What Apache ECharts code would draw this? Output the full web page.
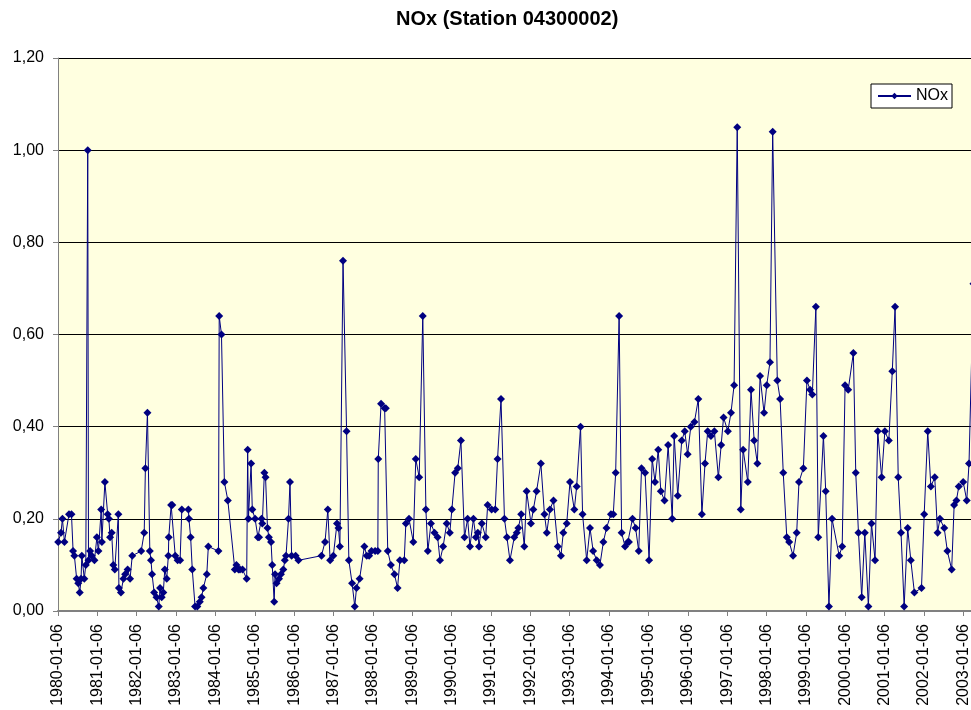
<!DOCTYPE html>
<html>
<head>
<meta charset="utf-8">
<script src="https://cdn.jsdelivr.net/npm/echarts@6/dist/echarts.min.js"></script>
<style>html,body{margin:0;padding:0;background:#fff;}#c{width:971px;height:710px;}</style>
</head>
<body>
<div id="c"></div>
<script>
const chartTitle = 'NOx (Station 04300002)';
const seriesName = 'NOx';
const yTicks = [0, 0.2, 0.4, 0.6, 0.8, 1.0, 1.2];
const tickYears = [1980,1981,1982,1983,1984,1985,1986,1987,1988,1989,1990,1991,1992,1993,1994,1995,1996,1997,1998,1999,2000,2001,2002,2003,2004];

const dates = [
'1980-01-08','1980-02-03','1980-02-16','1980-03-06','1980-04-17','1980-05-10','1980-05-25','1980-06-06','1980-06-27','1980-07-12',
'1980-07-26','1980-08-07','1980-08-14','1980-09-06','1980-09-20','1980-10-08','1980-10-15','1980-10-30','1980-11-14','1980-12-09',
'1981-01-01','1981-01-15','1981-02-10','1981-02-16','1981-03-16','1981-04-11','1981-04-22','1981-05-03','1981-05-18','1981-06-02',
'1981-06-16','1981-07-19','1981-07-24','1981-08-12','1981-09-04','1981-09-20','1981-10-13','1981-11-05','1981-11-25',
'1982-02-16','1982-03-16','1982-03-27','1982-04-15','1982-05-07','1982-05-18','1982-05-28','1982-06-16','1982-07-08','1982-07-29',
'1982-08-10','1982-08-25','1982-09-09','1982-09-23','1982-10-11','1982-10-26','1982-10-30','1982-11-21','1982-12-02','1982-12-29',
'1983-01-20','1983-02-12','1983-02-28','1983-04-30','1983-05-05','1983-05-21','1983-06-05','1983-07-01','1983-07-22','1983-08-14',
'1983-08-30','1983-09-16','1983-10-18','1983-11-01',
'1984-02-03','1984-02-10','1984-03-02','1984-03-29','1984-04-30','1984-07-04','1984-07-19','1984-08-07','1984-08-21','1984-09-13',
'1984-10-22','1984-10-31','1984-11-07','1984-12-02','1984-12-13',
'1985-01-08','1985-02-03','1985-02-14','1985-03-09','1985-03-16','1985-04-04','1985-04-15','1985-05-03','1985-05-16','1985-06-05',
'1985-06-16','1985-07-04','1985-07-12','1985-07-26','1985-08-18','1985-09-05','1985-09-27','1985-10-11','1985-10-22','1985-11-14',
'1985-11-28','1985-12-13','1986-01-19','1986-02-14','1986-09-16','1986-10-19','1986-11-14','1986-12-05',
'1987-01-04','1987-02-07','1987-02-21','1987-03-06','1987-04-04','1987-05-07','1987-05-28','1987-06-27','1987-07-22','1987-08-07',
'1987-09-05','1987-10-19','1987-11-10','1987-12-02','1987-12-24',
'1988-01-27','1988-02-21','1988-02-25','1988-03-22','1988-04-24','1988-05-05','1988-05-23','1988-06-21','1988-07-24','1988-08-22',
'1988-09-13','1988-10-23','1988-11-07','1988-12-06',
'1989-01-15','1989-02-07','1989-03-11','1989-04-13','1989-05-12','1989-05-30','1989-06-28','1989-07-31','1989-08-29','1989-09-20',
'1989-10-19','1989-11-21','1989-12-20',
'1990-01-08','1990-02-07','1990-03-04','1990-04-02','1990-05-05','1990-06-03','1990-06-25','1990-07-27','1990-08-19','1990-09-06',
'1990-09-17','1990-10-13','1990-11-18','1990-12-06',
'1991-01-12','1991-02-14','1991-03-08','1991-04-09','1991-05-11','1991-06-03','1991-07-01','1991-08-10','1991-09-02','1991-09-17',
'1991-10-13','1991-11-11','1991-12-03',
'1992-01-12','1992-02-03','1992-03-04','1992-04-13','1992-05-16','1992-06-07','1992-07-06','1992-08-08','1992-09-17','1992-10-16',
'1992-11-07','1992-12-09',
'1993-01-08','1993-02-17','1993-03-11','1993-04-16','1993-05-05','1993-06-12','1993-07-13','1993-08-11','1993-09-13','1993-10-13',
'1993-11-14','1993-12-13',
'1994-01-23','1994-02-14','1994-03-08','1994-04-09','1994-05-02','1994-06-03','1994-06-29','1994-07-09','1994-08-11','1994-09-09',
'1994-10-08','1994-11-03','1994-12-06',
'1995-01-12','1995-02-10','1995-03-08','1995-04-07','1995-05-01','1995-06-04','1995-07-08','1995-08-15','1995-09-02','1995-10-05',
'1995-11-11','1995-12-09',
'1996-01-05','1996-02-03','1996-03-08','1996-04-13','1996-05-16','1996-06-14','1996-07-09','1996-08-08','1996-09-09','1996-10-16',
'1996-11-11','1996-12-03',
'1997-01-12','1997-02-10','1997-03-11','1997-04-09','1997-05-12','1997-06-03','1997-07-16','1997-08-15','1997-09-13','1997-10-13',
'1997-11-07','1997-12-14',
'1998-01-08','1998-02-07','1998-03-04','1998-04-16','1998-05-12','1998-06-10','1998-07-13','1998-08-04','1998-09-09','1998-10-13',
'1998-11-03','1998-12-14',
'1999-01-16','1999-02-14','1999-03-07','1999-04-09','1999-05-01','1999-06-18','1999-07-09','1999-08-08','1999-09-06','1999-11-11',
'1999-12-09',
'2000-01-05','2000-02-03','2000-03-22','2000-04-13','2000-05-08','2000-06-07','2000-07-06','2000-08-08','2000-09-06','2000-10-09',
'2000-11-03','2000-12-09',
'2001-01-08','2001-02-14','2001-03-18','2001-04-13','2001-05-12','2001-06-07','2001-07-06','2001-08-08','2001-09-06','2001-10-09',
'2001-12-14',
'2002-01-08','2002-02-10','2002-03-11','2002-04-16','2002-05-12','2002-06-03','2002-07-13','2002-08-11','2002-09-20','2002-10-13',
'2002-11-03','2002-11-25',
'2003-01-05','2003-02-07','2003-02-28','2003-04-10'
];

const nox = [
0.15,0.17,0.20,0.15,0.21,0.21,0.13,0.12,0.07,0.06,
0.04,0.07,0.12,0.07,0.10,1.00,0.11,0.13,0.12,0.11,
0.16,0.13,0.22,0.15,0.28,0.21,0.20,0.16,0.17,0.10,
0.09,0.21,0.05,0.04,0.07,0.08,0.09,0.07,0.12,
0.13,0.17,0.31,0.43,0.13,0.11,0.08,0.04,0.03,0.01,
0.05,0.03,0.04,0.09,0.07,0.12,0.16,0.23,0.23,0.12,
0.11,0.11,0.22,0.22,0.20,0.16,0.09,0.01,0.01,0.02,
0.03,0.05,0.08,0.14,
0.13,0.64,0.60,0.28,0.24,0.09,0.10,0.09,0.09,0.09,
0.07,0.35,0.20,0.32,0.22,
0.20,0.16,0.16,0.20,0.19,0.30,0.29,0.18,0.16,0.15,
0.10,0.02,0.08,0.06,0.07,0.08,0.09,0.11,0.12,0.20,
0.28,0.12,0.12,0.11,0.12,0.15,0.22,0.11,
0.12,0.19,0.18,0.14,0.76,0.39,0.11,0.06,0.01,0.05,
0.07,0.14,0.12,0.12,0.13,
0.13,0.13,0.33,0.45,0.44,0.44,0.13,0.10,0.08,0.05,
0.11,0.11,0.19,0.20,
0.15,0.33,0.29,0.64,0.22,0.13,0.19,0.17,0.16,0.11,
0.14,0.19,0.17,
0.22,0.30,0.31,0.37,0.16,0.20,0.14,0.20,0.16,0.17,
0.14,0.19,0.16,0.23,
0.22,0.22,0.33,0.46,0.20,0.16,0.11,0.16,0.17,0.18,
0.21,0.14,0.26,
0.19,0.22,0.26,0.32,0.21,0.17,0.22,0.24,0.14,0.12,
0.17,0.19,
0.28,0.22,0.27,0.40,0.21,0.11,0.18,0.13,0.11,0.10,
0.15,0.18,
0.21,0.21,0.30,0.64,0.17,0.14,0.15,0.15,0.20,0.18,
0.13,0.31,0.30,
0.11,0.33,0.28,0.35,0.26,0.24,0.36,0.20,0.38,0.25,
0.37,0.39,
0.34,0.40,0.41,0.46,0.21,0.32,0.39,0.38,0.39,0.29,
0.36,0.42,
0.39,0.43,0.49,1.05,0.22,0.35,0.28,0.48,0.37,0.32,
0.51,0.43,
0.49,0.54,1.04,0.50,0.46,0.30,0.16,0.15,0.12,0.17,
0.28,0.31,
0.50,0.48,0.47,0.66,0.16,0.38,0.26,0.01,0.20,0.12,
0.14,
0.49,0.48,0.56,0.30,0.17,0.03,0.17,0.01,0.19,0.11,
0.39,0.29,
0.39,0.37,0.52,0.66,0.29,0.17,0.01,0.18,0.11,0.04,
0.05,
0.21,0.39,0.27,0.29,0.17,0.20,0.18,0.13,0.09,0.23,
0.24,0.27,
0.28,0.24,0.32,0.71
];

const BASE = Date.UTC(1980, 0, 6);
const DAY = 86400000;
const YEAR_DAYS = 365.25;
function toDays(s) {
  const p = s.split('-').map(Number);
  return (Date.UTC(p[0], p[1] - 1, p[2]) - BASE) / DAY;
}
const points = dates.map((d, i) => [toDays(d), nox[i]]);

const FONT = 'Arial, "Liberation Sans", sans-serif';
const chart = echarts.init(document.getElementById('c'), null, {renderer: 'canvas'});
chart.setOption({
  animation: false,
  backgroundColor: '#ffffff',
  title: {
    text: chartTitle,
    left: 396, top: 9, padding: 0,
    textStyle: {fontFamily: FONT, fontSize: 20, fontWeight: 'bold', color: '#000'}
  },
  legend: {
    data: [seriesName],
    left: 871, top: 84,
    padding: [4, 4, 4, 6],
    itemWidth: 33, itemHeight: 8, itemGap: 0,
    backgroundColor: '#ffffff',
    borderColor: '#000000', borderWidth: 1,
    textStyle: {fontFamily: FONT, fontSize: 16, color: '#000'}
  },
  grid: {
    left: 58, top: 58, width: (tickYears.length - 1) * 39.36, height: 553,
    show: true, backgroundColor: '#FFFFE0', borderWidth: 0,
    containLabel: false, outerBoundsMode: 'none'
  },
  xAxis: {
    type: 'value',
    min: 0,
    max: (tickYears.length - 1) * YEAR_DAYS,
    interval: YEAR_DAYS,
    axisLine: {show: true, onZero: false, lineStyle: {color: '#808080', width: 2}},
    axisTick: {show: true, inside: false, length: 5, lineStyle: {color: '#808080', width: 1}},
    splitLine: {show: false},
    axisLabel: {
      rotate: 90, margin: 13,
      fontFamily: FONT, fontSize: 16, color: '#000',
      showMinLabel: true, showMaxLabel: true,
      formatter: v => tickYears[Math.round(v / YEAR_DAYS)] + '-01-06'
    }
  },
  yAxis: {
    type: 'value',
    min: 0, max: 1.2, interval: 0.2,
    axisLine: {show: true, lineStyle: {color: '#808080', width: 1}},
    axisTick: {show: true, inside: false, length: 5, lineStyle: {color: '#808080', width: 1}},
    splitLine: {show: true, lineStyle: {color: '#000000', width: 1}},
    axisLabel: {
      margin: 14, fontFamily: FONT, fontSize: 16, color: '#000',
      formatter: v => v.toFixed(2).replace('.', ',')
    }
  },
  series: [{
    name: seriesName,
    type: 'line',
    data: points,
    symbol: 'diamond',
    symbolSize: 8,
    showAllSymbol: true,
    lineStyle: {color: '#000080', width: 1},
    itemStyle: {color: '#000080'},
    emphasis: {disabled: true}
  }]
});
</script>
</body>
</html>
